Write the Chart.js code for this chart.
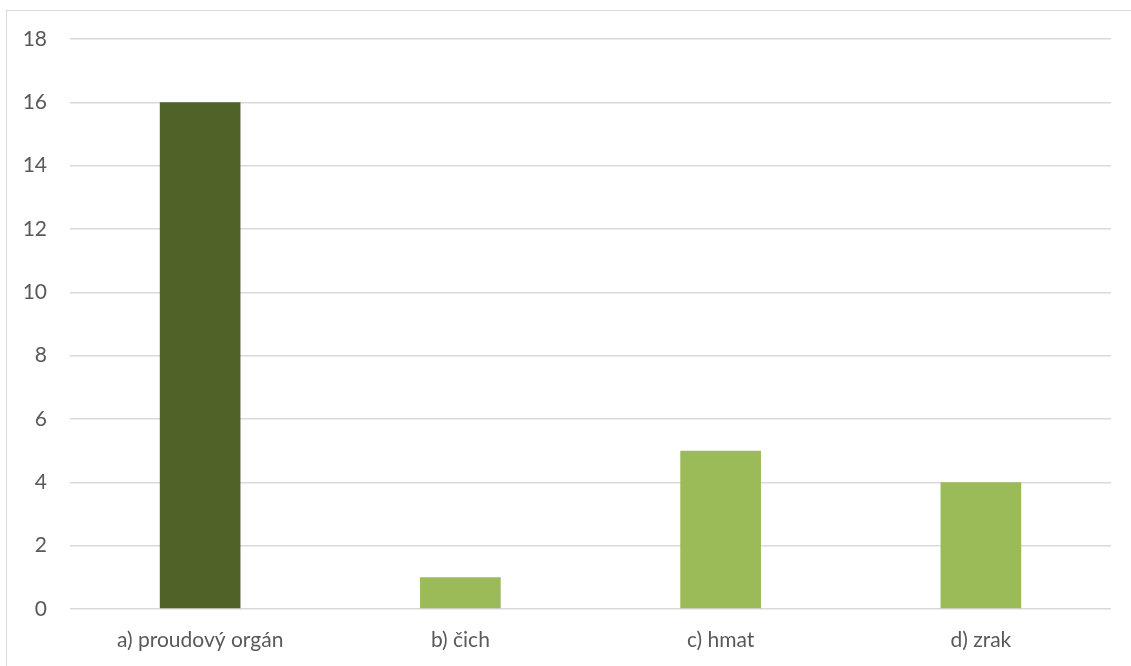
<!DOCTYPE html>
<html>
<head>
<meta charset="utf-8">
<script src="https://cdn.jsdelivr.net/npm/chart.js@4"></script>
<style>
  html, body { margin: 0; padding: 0; background: #fff; overflow: hidden; }
  .frame {
    position: absolute; left: 6px; top: 10px;
    width: 1130px; height: 660px;
    border-left: 1px solid #d9d9d9; border-top: 1px solid #d9d9d9;
  }
  .box { position: absolute; left: 0; top: 0; width: 1124px; height: 655px; }
</style>
</head>
<body>
<div class="frame"><div class="box"><canvas id="c"></canvas></div></div>
<script>
const categories = ['a) proudový orgán', 'b) čich', 'c) hmat', 'd) zrak'];
const values = [16, 1, 5, 4];
const barColors = ['#4F6228', '#9BBB59', '#9BBB59', '#9BBB59'];

const font = { family: 'Lato, "Open Sans", sans-serif', size: 21 };
const textColor = '#595959';

new Chart(document.getElementById('c'), {
    type: 'bar',
    data: {
        labels: categories,
        datasets: [{
            data: values,
            backgroundColor: barColors,
            borderWidth: 0,
            barPercentage: 0.31,
            categoryPercentage: 1
        }]
    },
    options: {
        responsive: true,
        maintainAspectRatio: false,
        animation: false,
        layout: { padding: { top: 28, right: 20, left: 0, bottom: 0 } },
        plugins: { legend: { display: false }, tooltip: { enabled: false } },
        scales: {
            x: {
                grid: { display: false, drawTicks: false },
                border: { display: false },
                ticks: { color: textColor, font, padding: 19, maxRotation: 0 },
                afterFit: (s) => { s.height = 57; s.paddingLeft = 0; s.paddingRight = 0; }
            },
            y: {
                min: 0, max: 18,
                ticks: { stepSize: 2, color: textColor, font, padding: 23 },
                grid: { color: '#d9d9d9', lineWidth: 1.5, drawTicks: false },
                border: { display: false },
                afterFit: (s) => { s.width = 63; s.paddingTop = 0; s.paddingBottom = 0; }
            }
        }
    }
});
</script>
</body>
</html>
